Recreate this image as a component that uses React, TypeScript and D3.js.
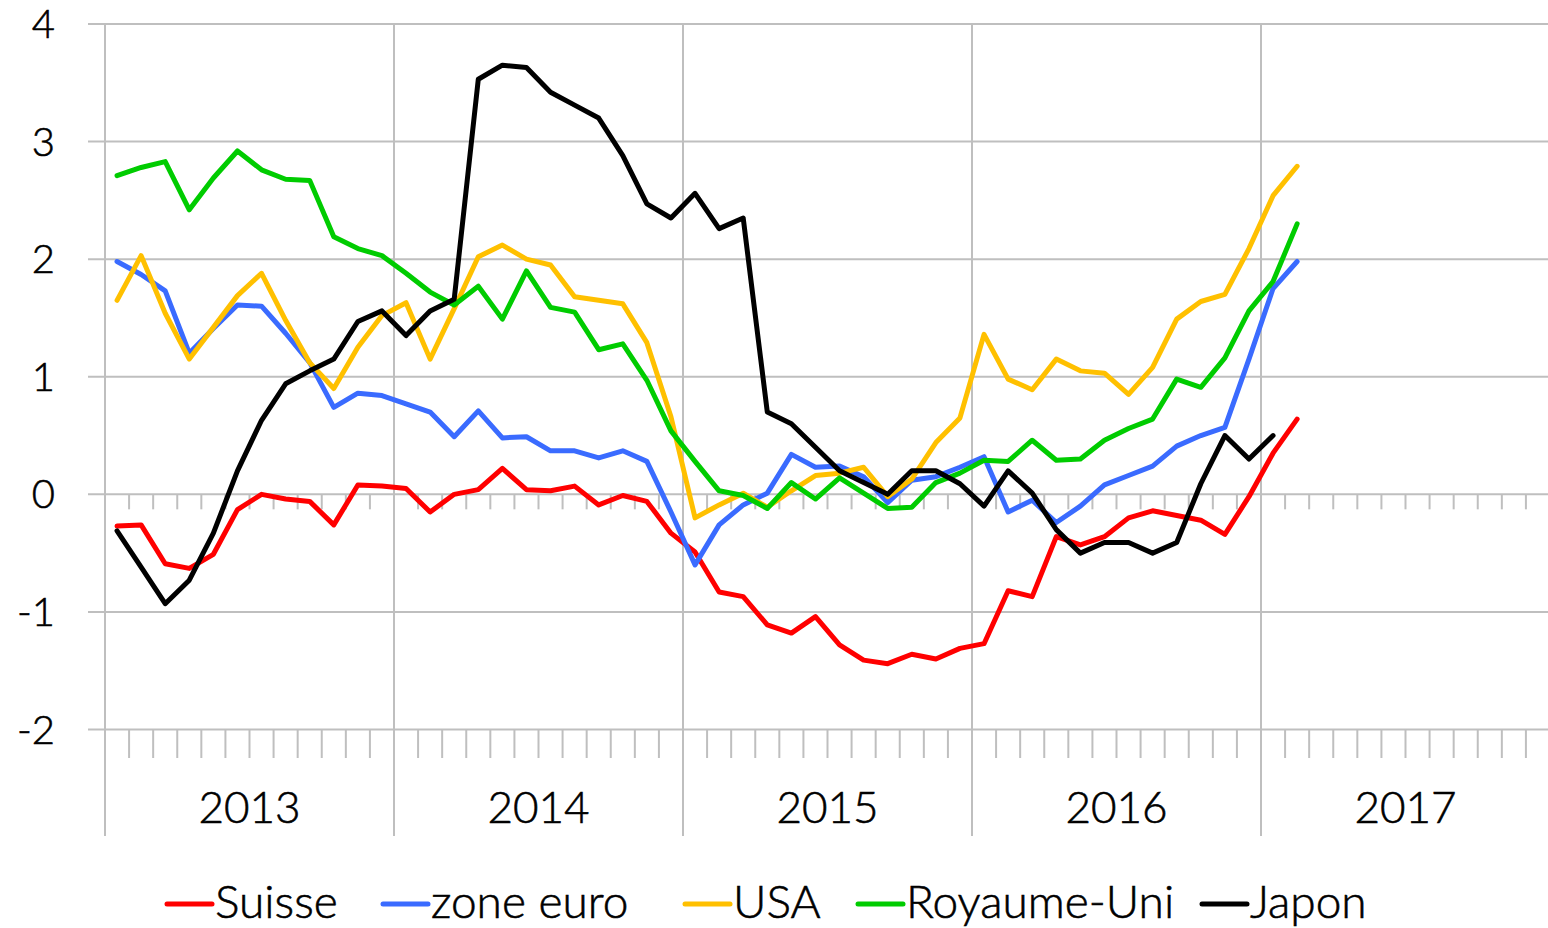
import React from "react";
import * as d3 from "d3";

const years = ["2013", "2014", "2015", "2016", "2017"];
const yTicks = [-2, -1, 0, 1, 2, 3, 4];

const suisse = [-0.27,-0.26,-0.59,-0.63,-0.51,-0.13,0.0,-0.04,-0.06,-0.26,0.08,0.07,0.05,-0.15,0.0,0.04,0.22,0.04,0.03,0.07,-0.09,-0.01,-0.06,-0.33,-0.49,-0.83,-0.87,-1.11,-1.18,-1.04,-1.28,-1.41,-1.44,-1.36,-1.40,-1.31,-1.27,-0.82,-0.87,-0.36,-0.43,-0.36,-0.20,-0.14,-0.18,-0.22,-0.34,-0.02,0.35,0.64];
const zoneEuro = [1.98,1.87,1.73,1.20,1.41,1.61,1.60,1.37,1.12,0.74,0.86,0.84,0.77,0.70,0.49,0.71,0.48,0.49,0.37,0.37,0.31,0.37,0.28,-0.15,-0.60,-0.26,-0.09,0.01,0.34,0.23,0.24,0.15,-0.07,0.12,0.15,0.23,0.32,-0.15,-0.05,-0.24,-0.10,0.08,0.16,0.24,0.41,0.50,0.57,1.15,1.75,1.98];
const usa = [1.65,2.03,1.54,1.15,1.42,1.69,1.88,1.48,1.12,0.90,1.25,1.52,1.63,1.15,1.58,2.02,2.12,2.00,1.95,1.68,1.65,1.62,1.29,0.66,-0.20,-0.09,0.01,-0.11,0.03,0.16,0.18,0.23,-0.02,0.13,0.44,0.65,1.36,0.98,0.89,1.15,1.05,1.03,0.85,1.08,1.49,1.64,1.70,2.09,2.54,2.79];
const royaumeUni = [2.71,2.78,2.83,2.42,2.69,2.92,2.76,2.68,2.67,2.19,2.09,2.03,1.88,1.72,1.61,1.77,1.49,1.90,1.59,1.55,1.23,1.28,0.97,0.54,0.28,0.03,-0.01,-0.12,0.10,-0.04,0.14,0.01,-0.12,-0.11,0.10,0.18,0.29,0.28,0.46,0.29,0.30,0.46,0.56,0.64,0.98,0.91,1.16,1.56,1.81,2.30];
const japon = [-0.31,-0.62,-0.93,-0.73,-0.33,0.20,0.63,0.94,1.05,1.15,1.47,1.56,1.35,1.56,1.66,3.53,3.65,3.63,3.42,3.31,3.20,2.88,2.47,2.35,2.56,2.26,2.35,0.70,0.60,0.40,0.20,0.10,0.0,0.20,0.20,0.09,-0.10,0.20,0.01,-0.30,-0.50,-0.41,-0.41,-0.50,-0.41,0.09,0.50,0.30,0.50];

const seriesNames = ["Suisse", "zone euro", "USA", "Royaume-Uni", "Japon"];
const seriesValues = [suisse, zoneEuro, usa, royaumeUni, japon];
const seriesColors = ["#ff0000", "#3a6bff", "#ffc000", "#00cc00", "#000000"];

const W = 1548;
const H = 928;
const FONT = "Lato, 'Open Sans', sans-serif";

export default function App() {
  const nMonths = years.length * 12;
  const left = 105;
  const right = 1550;
  const x = d3.scaleLinear().domain([0, nMonths]).range([left, right]);
  const y = d3.scaleLinear().domain([-2, 4]).range([729.5, 24]);
  const line = d3
    .line<number>()
    .x((_, i) => x(i + 0.5))
    .y((d) => y(d));

  const grid = "#bfbfbf";
  const monthBounds = d3.range(1, nMonths).filter((k) => k % 12 !== 0);
  const legendX = [167, 383, 685, 858, 1202];
  const textStyle = { fill: "#000", stroke: "#000", strokeWidth: 0.6 };

  return (
    <svg
      width={W}
      height={H}
      style={{ position: "absolute", left: 0, top: 0, display: "block", background: "#fff" }}
      fontFamily={FONT}
      fontWeight={300}
    >
      {yTicks.map((t) => (
        <line key={"h" + t} x1={88} x2={W} y1={y(t)} y2={y(t)} stroke={grid} strokeWidth={2} />
      ))}
      {d3.range(0, years.length + 1).map((k) => (
        <line key={"v" + k} x1={x(k * 12)} x2={x(k * 12)} y1={y(4)} y2={836} stroke={grid} strokeWidth={2} />
      ))}
      {monthBounds.map((k) => (
        <g key={"t" + k}>
          <line x1={x(k)} x2={x(k)} y1={y(0)} y2={y(0) + 15} stroke={grid} strokeWidth={2} />
          <line x1={x(k)} x2={x(k)} y1={y(-2)} y2={758} stroke={grid} strokeWidth={2} />
        </g>
      ))}
      {yTicks.map((t) => (
        <text key={"yl" + t} x={55} y={y(t) + 14} textAnchor="end" fontSize={40} style={textStyle}>
          {t}
        </text>
      ))}
      {years.map((yr, k) => (
        <text key={yr} x={x(k * 12 + 6)} y={823} textAnchor="middle" fontSize={44} style={textStyle}>
          {yr}
        </text>
      ))}
      {seriesValues.map((vals, s) => (
        <path
          key={seriesNames[s]}
          d={line(vals) || ""}
          fill="none"
          stroke={seriesColors[s]}
          strokeWidth={5}
          strokeLinejoin="round"
          strokeLinecap="round"
        />
      ))}
      {seriesNames.map((name, s) => (
        <g key={"lg" + name}>
          <line x1={legendX[s]} x2={legendX[s] + 45} y1={904} y2={904} stroke={seriesColors[s]} strokeWidth={5} strokeLinecap="round" />
          <text x={legendX[s] + 48} y={918} fontSize={46} style={textStyle}>
            {name}
          </text>
        </g>
      ))}
    </svg>
  );
}
